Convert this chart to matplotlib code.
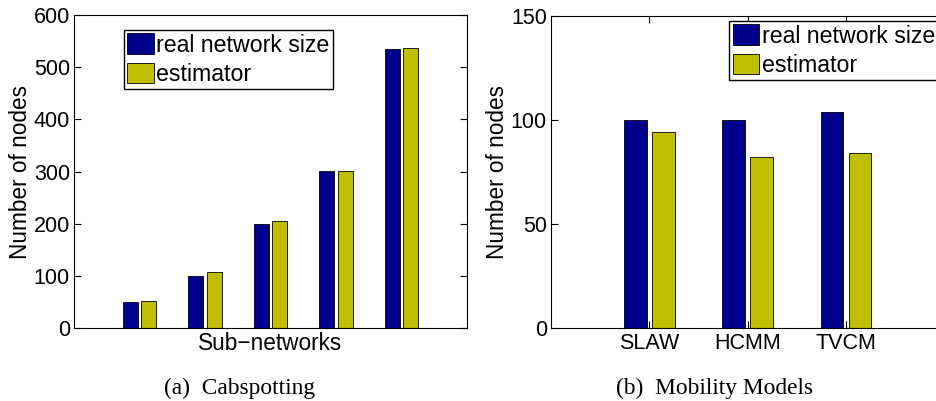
import matplotlib
matplotlib.use("Agg")
import matplotlib.pyplot as plt
import numpy as np

plt.rcParams['font.family'] = ['Liberation Sans', 'DejaVu Sans']

# data
sub_real = [50, 100, 200, 301, 536]
sub_est = [51, 107, 206, 301, 537]

models = ["SLAW", "HCMM", "TVCM"]
mob_real = [100, 100, 104]
mob_est = [94, 82, 84]

c_real = '#00008F'
c_est = '#BFBF00'
bw = 0.23
off = 0.142
fs = 16.3

fig = plt.figure(figsize=(9.36, 4.01), dpi=100)
ax1 = fig.add_axes([0.0791, 0.182, 0.4196, 0.78])
ax2 = fig.add_axes([0.5887, 0.181, 0.42, 0.78])


def draw(ax, real, est):
    x = np.arange(1, len(real) + 1)
    ax.bar(x - off, real, bw, color=c_real, edgecolor='black', linewidth=0.6, label='real network size')
    ax.bar(x + off, est, bw, color=c_est, edgecolor='black', linewidth=0.6, label='estimator')
    ax.set_xlim(0, len(real) + 1)
    ax.tick_params(direction='in', length=5, labelsize=15.5, top=True, right=True, pad=3)
    ax.set_ylabel("Number of nodes", fontsize=fs, labelpad=1)
    return x


def legend(ax, anchor):
    ax.legend(loc='upper left', bbox_to_anchor=anchor, fontsize=16.7, fancybox=False,
              edgecolor='black', framealpha=1, handlelength=1.15, handleheight=1.0,
              handletextpad=0.1, borderpad=0.15, labelspacing=0.25, borderaxespad=0)


draw(ax1, sub_real, sub_est)
ax1.set_ylim(0, 600)
ax1.set_yticks([0, 100, 200, 300, 400, 500, 600])
ax1.set_xticks([])
ax1.set_xlabel("Sub\u2212networks", fontsize=fs, labelpad=3)
legend(ax1, (0.127, 0.953))

x2 = draw(ax2, mob_real, mob_est)
ax2.set_ylim(0, 150)
ax2.set_yticks([0, 50, 100, 150])
ax2.set_xticks(x2)
ax2.set_xticklabels(models)
legend(ax2, (0.453, 0.983))

fig.text(240 / 936, 1 - 388 / 401, "(a)  Cabspotting", family='Liberation Serif',
         fontsize=16.8, ha='center', va='center')
fig.text(715 / 936, 1 - 388 / 401, "(b)  Mobility Models", family='Liberation Serif',
         fontsize=16.8, ha='center', va='center')

fig.savefig("out.png", dpi=100)
